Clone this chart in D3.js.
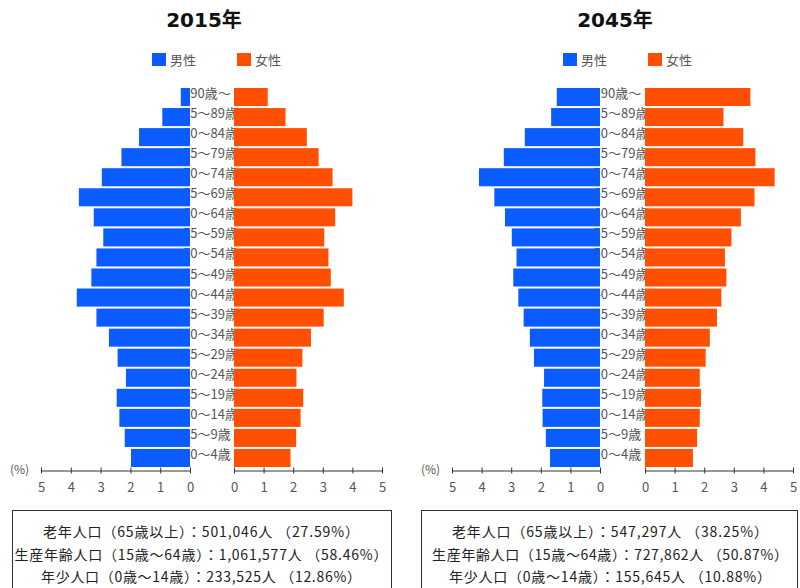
<!DOCTYPE html>
<html><head><meta charset="utf-8">
<script src="https://cdn.jsdelivr.net/npm/d3@7/dist/d3.min.js"></script>
<style>
html,body{margin:0;padding:0;background:#fff;}
svg{display:block;font-family:"DejaVu Sans","Noto Sans CJK JP",sans-serif;}
</style></head>
<body><svg id="c" width="800" height="588"></svg>
<script>
const ages = ["90歳～","85～89歳","80～84歳","75～79歳","70～74歳","65～69歳","60～64歳","55～59歳","50～54歳","45～49歳","40～44歳","35～39歳","30～34歳","25～29歳","20～24歳","15～19歳","10～14歳","5～9歳","0～4歳"];
const years = ["2015年","2045年"];
const male2015   = [0.31,0.93,1.71,2.30,2.96,3.73,3.23,2.91,3.14,3.31,3.80,3.14,2.72,2.43,2.15,2.46,2.37,2.19,1.98];
const female2015 = [1.14,1.74,2.46,2.86,3.33,4.00,3.42,3.05,3.19,3.27,3.71,3.03,2.60,2.31,2.11,2.34,2.25,2.10,1.91];
const male2045   = [1.46,1.65,2.54,3.25,4.09,3.57,3.21,2.98,2.82,2.93,2.76,2.58,2.37,2.23,1.89,1.95,1.94,1.83,1.69];
const female2045 = [3.56,2.65,3.32,3.73,4.38,3.70,3.24,2.92,2.70,2.75,2.58,2.43,2.19,2.05,1.85,1.89,1.85,1.76,1.62];
const axisTicks = [0,1,2,3,4,5];
const legendLabels = ["男性","女性"];
const summary2015 = ["老年人口（65歳以上）：501,046人 （27.59%）","生産年齢人口（15歳～64歳）：1,061,577人 （58.46%）","年少人口（0歳～14歳）：233,525人 （12.86%）"];
const summary2045 = ["老年人口（65歳以上）：547,297人 （38.25%）","生産年齢人口（15歳～64歳）：727,862人 （50.87%）","年少人口（0歳～14歳）：155,645人 （10.88%）"];

const BLUE = "#0a5cff", ORANGE = "#ff4f00";
const CJK = "'Noto Sans CJK JP', sans-serif";
const svg = d3.select("#c");

const panels = [
  {year: years[0], male: male2015, female: female2015, summary: summary2015, sumW: [316, 373, 320],
   mz: 190, m5: 41, fz: 234, f5: 382, titleX: 204, legX: 152, boxX: 12.5, boxW: 379, sumX: 201, pctX: 10},
  {year: years[1], male: male2045, female: female2045, summary: summary2045, sumW: [316, 356, 322],
   mz: 600, m5: 452, fz: 645, f5: 793, titleX: 615, legX: 563, boxX: 421.5, boxW: 376, sumX: 610, pctX: 421}
];

const y = d3.scaleBand().domain(ages).range([87, 468]).paddingInner(0.1).paddingOuter(0.05);

panels.forEach(p => {
  const g = svg.append("g");
  const xm = d3.scaleLinear().domain([0,5]).range([p.mz, p.m5]);
  const xf = d3.scaleLinear().domain([0,5]).range([p.fz, p.f5]);

  // title
  g.append("text").attr("x", p.titleX).attr("y", 27).attr("text-anchor","middle")
    .attr("font-size", 20).attr("font-weight","bold").attr("fill","#111").text(p.year);

  // legend
  [BLUE, ORANGE].forEach((c,i) => {
    const lx = p.legX + i*85;
    g.append("rect").attr("x", lx).attr("y", 53).attr("width", 14).attr("height", 13).attr("fill", c);
    g.append("text").attr("x", lx+18).attr("y", 60).attr("dy","0.36em")
      .attr("font-family", CJK).attr("font-size", 13).attr("fill","#555").text(legendLabels[i]);
  });

  // age labels (drawn under bars)
  const cx = (p.mz + p.fz)/2 - 1.5;
  g.append("g").selectAll("text").data(ages).join("text")
    .attr("x", cx).attr("y", d => y(d) + y.bandwidth()/2 + 1)
    .attr("text-anchor","middle").attr("font-family", CJK).attr("font-size", 13).attr("fill","#555").text(d => d);

  // bars
  g.append("g").selectAll("rect").data(p.male).join("rect")
    .attr("x", d => xm(d)).attr("y", (d,i) => y(ages[i]))
    .attr("width", d => xm(0) - xm(d)).attr("height", y.bandwidth()).attr("fill", BLUE);
  g.append("g").selectAll("rect").data(p.female).join("rect")
    .attr("x", xf(0)).attr("y", (d,i) => y(ages[i]))
    .attr("width", d => xf(d) - xf(0)).attr("height", y.bandwidth()).attr("fill", ORANGE);

  // axes
  [xm, xf].forEach(sc => {
    const ax = g.append("g").attr("transform","translate(0,470.5)")
      .call(d3.axisBottom(sc).tickValues(axisTicks).tickFormat(d3.format("d")).tickSize(3).tickSizeOuter(0));
    ax.select(".domain").attr("stroke","#333");
    ax.selectAll(".tick line").attr("y1",-3).attr("y2",3).attr("stroke","#333");
    ax.selectAll(".tick text").attr("y", 12).attr("font-size", 13).attr("fill","#555")
      .attr("font-family", CJK);
  });
  g.append("text").attr("x", p.pctX).attr("y", 470).attr("dy","0.36em")
    .attr("font-family", CJK).attr("font-size", 12).attr("fill","#555").text("(%)");

  // summary box
  g.append("rect").attr("x", p.boxX).attr("y", 510.5).attr("width", p.boxW).attr("height", 100)
    .attr("fill","none").attr("stroke","#333").attr("stroke-width",1);
  p.summary.forEach((t,i) => {
    g.append("text").attr("x", p.sumX).attr("y", 532 + i*22.5).attr("dy","0.38em")
      .attr("text-anchor","middle").attr("font-family", CJK).attr("font-size", 14).attr("fill","#222")
      .attr("textLength", p.sumW[i]).attr("lengthAdjust","spacing").text(t);
  });
});
</script></body></html>
